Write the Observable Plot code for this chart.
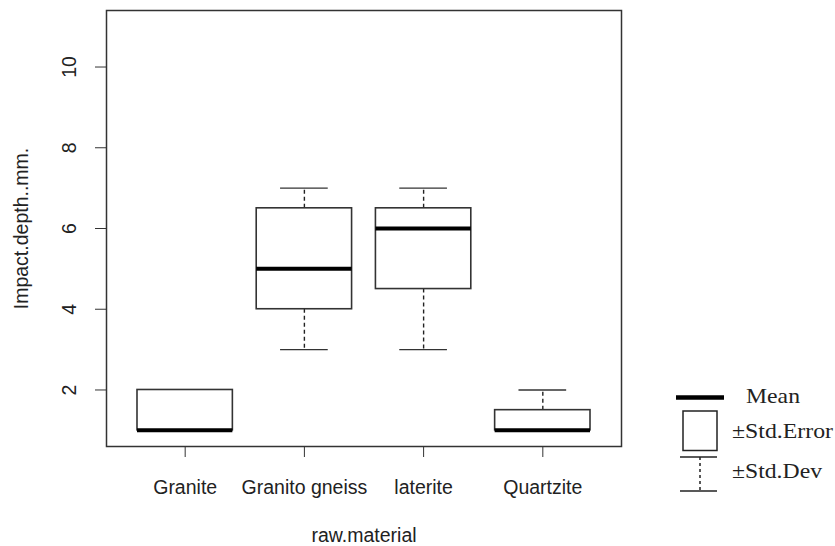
<!DOCTYPE html>
<html>
<head>
<meta charset="utf-8">
<script src="https://cdn.jsdelivr.net/npm/d3@7"></script>
<script src="https://cdn.jsdelivr.net/npm/@observablehq/plot@0.6"></script>
<style>
  html, body { margin: 0; padding: 0; background: #fff; }
  #wrap { position: relative; width: 835px; height: 546px; }
  #legend { position: absolute; left: 0; top: 0; pointer-events: none; }
</style>
</head>
<body>
<div id="wrap"></div>
<script>
// ---- data ----
const categories = ["Granite", "Granito gneiss", "laterite", "Quartzite"];
const means   = [1, 5, 6, 1];
const seLow   = [1, 4, 4.5, 1];
const seHigh  = [2, 6.5, 6.5, 1.5];
const sdLow   = [1, 3, 3, 1];
const sdHigh  = [2, 7, 7, 2];
const yTicks  = [2, 4, 6, 8, 10];
const xLabel  = "raw.material";
const yLabel  = "Impact.depth..mm.";
const legendItems = ["Mean", "\u00B1Std.Error", "\u00B1Std.Dev"];

const rows = categories.map((c, i) => ({
  cat: c, pos: i + 1,
  mean: means[i], seLow: seLow[i], seHigh: seHigh[i], sdLow: sdLow[i], sdHigh: sdHigh[i]
}));

const boxHalf = 0.4, capHalf = 0.2;
const ink = "#222";
const font = "'Liberation Sans', Arial, sans-serif";

const chart = Plot.plot({
  width: 835,
  height: 546,
  marginLeft: 106,
  marginRight: 214,
  marginTop: 10,
  marginBottom: 100,
  style: { fontFamily: font, fontSize: "19.5px", color: ink, background: "white" },
  x: { type: "linear", domain: [0.34, 4.66] },
  y: { type: "linear", domain: [0.6, 11.4] },
  marks: [
    Plot.frame({ stroke: "#333", strokeWidth: 1.5 }),
    // whiskers (±Std.Dev), dashed
    Plot.ruleX(rows.filter(d => d.sdHigh > d.seHigh), { x: "pos", y1: "seHigh", y2: "sdHigh", stroke: ink, strokeWidth: 1.4, strokeDasharray: "4,3" }),
    Plot.ruleX(rows.filter(d => d.sdLow < d.seLow), { x: "pos", y1: "seLow", y2: "sdLow", stroke: ink, strokeWidth: 1.4, strokeDasharray: "4,3" }),
    // staples
    Plot.ruleY(rows, { y: "sdHigh", x1: d => d.pos - capHalf, x2: d => d.pos + capHalf, stroke: "#333", strokeWidth: 1.4 }),
    Plot.ruleY(rows, { y: "sdLow", x1: d => d.pos - capHalf, x2: d => d.pos + capHalf, stroke: "#333", strokeWidth: 1.4 }),
    // boxes (±Std.Error)
    Plot.rect(rows, { x1: d => d.pos - boxHalf, x2: d => d.pos + boxHalf, y1: "seLow", y2: "seHigh", fill: "white", stroke: "#333", strokeWidth: 1.6 }),
    // mean line
    Plot.ruleY(rows, { y: "mean", x1: d => d.pos - boxHalf, x2: d => d.pos + boxHalf, stroke: "#000", strokeWidth: 4 }),
    // axes
    Plot.axisX({ ticks: rows.map(d => d.pos), tickSize: 11, tickFormat: () => "", label: null, stroke: "#333" }),
    Plot.text(rows, { x: "pos", text: "cat", frameAnchor: "bottom", dy: 41, lineAnchor: "middle", fill: ink }),
    Plot.axisY({ ticks: yTicks, tickSize: 11, tickFormat: () => "", label: null, stroke: "#333" }),
    Plot.text(yTicks, { y: d => d, text: d => String(d), frameAnchor: "left", dx: -37, rotate: -90, textAnchor: "middle", lineAnchor: "middle", fill: ink }),
    // axis titles
    Plot.text([xLabel], { frameAnchor: "bottom", dy: 89, textAnchor: "middle", lineAnchor: "middle", fill: ink }),
    Plot.text([yLabel], { frameAnchor: "left", dx: -85, rotate: -90, textAnchor: "middle", lineAnchor: "middle", fill: ink })
  ]
});

const wrap = document.getElementById("wrap");
wrap.appendChild(chart);

// ---- legend (outside the plot, to the right) ----
const lg = d3.select(wrap).append("svg")
  .attr("id", "legend").attr("width", 835).attr("height", 546);
const serif = "'Liberation Serif', 'Times New Roman', serif";
// Mean
lg.append("line").attr("x1", 676).attr("x2", 724).attr("y1", 397.5).attr("y2", 397.5)
  .attr("stroke", "#000").attr("stroke-width", 4.5);
// Std.Error box
lg.append("rect").attr("x", 683).attr("y", 411).attr("width", 34).attr("height", 39.5)
  .attr("fill", "white").attr("stroke", "#222").attr("stroke-width", 1.5);
// Std.Dev whisker
lg.append("line").attr("x1", 680).attr("x2", 717).attr("y1", 457).attr("y2", 457)
  .attr("stroke", "#222").attr("stroke-width", 1.5);
lg.append("line").attr("x1", 700).attr("x2", 700).attr("y1", 457).attr("y2", 490)
  .attr("stroke", "#222").attr("stroke-width", 1.5).attr("stroke-dasharray", "3,3");
lg.append("line").attr("x1", 680).attr("x2", 717).attr("y1", 491).attr("y2", 491)
  .attr("stroke", "#222").attr("stroke-width", 1.5);
const lx = [746, 732, 732], ly = [396, 431, 471], lw = [54, 101, 90];
legendItems.forEach((t, i) => {
  lg.append("text").attr("x", lx[i]).attr("y", ly[i]).attr("dy", "0.35em")
    .attr("font-family", serif).attr("font-size", "21px").attr("fill", "#222")
    .attr("textLength", lw[i]).attr("lengthAdjust", "spacingAndGlyphs").text(t);
});
</script>
</body>
</html>
